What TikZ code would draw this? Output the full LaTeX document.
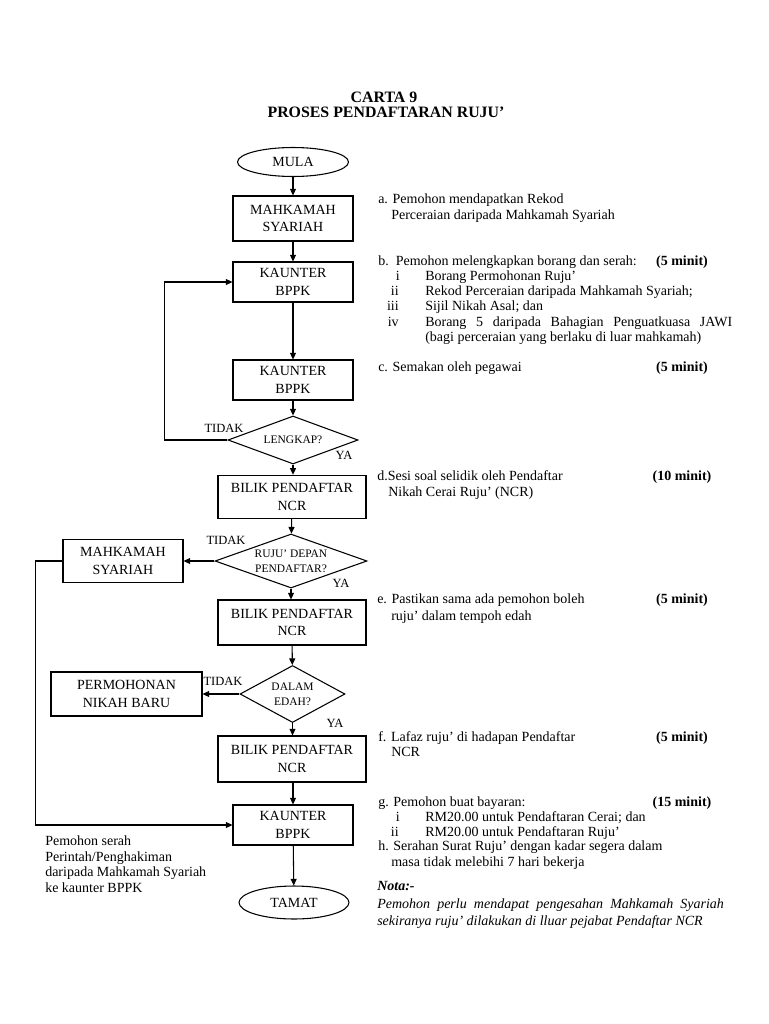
\documentclass[tikz,border=0pt]{standalone}
\usepackage{fontspec}
\setmainfont{Liberation Serif}
\usetikzlibrary{shapes.geometric,arrows.meta}
\newcommand\fsMain{\fontsize{10.5pt}{11.6pt}\selectfont}
\newcommand\fsBox{\fontsize{10.5pt}{13pt}\selectfont}
\newcommand\fsDia{\fontsize{8.6pt}{11pt}\selectfont}
\newcommand\fsLab{\fontsize{9.4pt}{11pt}\selectfont}
\newcommand\fsTitle{\fontsize{11.9pt}{12pt}\selectfont\bfseries}
\begin{document}
\begin{tikzpicture}[x=0.75pt,y=-0.75pt,
  flowbox/.style={draw, line width=0.8pt, align=center, font=\fsBox, inner sep=0pt, minimum width=90pt, minimum height=30pt},
  term/.style={draw, ellipse, line width=0.8pt, font=\fsBox, inner sep=0pt},
  decision/.style={draw, diamond, line width=0.8pt, align=center, font=\fsDia, inner sep=0pt},
  arr/.style={line width=0.8pt, -{Triangle[length=5pt,width=4.5pt]}},
  lab/.style={font=\fsLab, inner sep=0pt},
  txt/.style={font=\fsMain, anchor=mid west, inner sep=0pt},
  num/.style={font=\fsMain, anchor=mid east, inner sep=0pt},
  mins/.style={font=\fsMain\bfseries, anchor=mid, inner sep=0pt}]
\fill[white] (0,0) rectangle (768,1024);
\useasboundingbox (0,0) rectangle (768,1024);

% title
\node[font=\fsTitle, inner sep=0pt] (t1) at (384,97) {CARTA 9};
\node[font=\fsTitle, inner sep=0pt] (t2) at (386,112) {PROSES PENDAFTARAN RUJU'};

% flow
\node[term, minimum width=83.25pt, minimum height=21.75pt] (mula) at (293,162) {MULA};
\node[flowbox, minimum height=33.75pt] (ms1) at (293,218.5) {MAHKAMAH\\SYARIAH};
\node[flowbox] (kb1) at (293,282) {KAUNTER\\BPPK};
\node[flowbox] (kb2) at (293,380) {KAUNTER\\BPPK};
\node[decision, aspect=2.7, minimum width=97.5pt, minimum height=36pt] (lengkap) at (293,440) {LENGKAP?};
\node[flowbox, minimum width=111pt, minimum height=32.5pt] (bl1) at (292,497) {BILIK PENDAFTAR\\NCR};
\node[decision, aspect=2.8, minimum width=114pt, minimum height=40.5pt] (ruju) at (291,561) {RUJU' DEPAN\\PENDAFTAR?};
\node[flowbox, minimum height=32.25pt] (ms2) at (123,561) {MAHKAMAH\\SYARIAH};
\node[flowbox, minimum width=111pt, minimum height=33.75pt] (bl2) at (292,622.5) {BILIK PENDAFTAR\\NCR};
\node[decision, aspect=1.84, minimum width=78.75pt, minimum height=42.75pt] (edah) at (292.5,694) {DALAM\\EDAH?};
\node[flowbox, minimum width=113.25pt, minimum height=33pt] (pnb) at (126.5,694) {PERMOHONAN\\NIKAH BARU};
\node[flowbox, minimum width=111pt, minimum height=34.5pt] (bl3) at (292,759) {BILIK PENDAFTAR\\NCR};
\node[flowbox] (kb3) at (293,825) {KAUNTER\\BPPK};
\node[term, minimum width=82.5pt, minimum height=24.75pt] (tamat) at (294,902.5) {TAMAT};

% connectors
\draw[arr] (mula) -- (ms1);
\draw[arr] (ms1) -- (kb1);
\draw[arr] (kb1) -- (kb2);
\draw[arr] (kb2) -- (lengkap);
\draw[arr] (lengkap.west) -- ++(-63,0) |- (kb1.west);
\draw[arr] (lengkap.south) -- (bl1.north -| lengkap.south);
\draw[arr] (bl1) -- (ruju);
\draw[arr] (ruju.west) -- (ms2.east);
\draw[arr] (ruju.south) -- (bl2.north -| ruju.south);
\draw[arr] (bl2) -- (edah);
\draw[arr] (edah.west) -- (pnb.east);
\draw[arr] (edah.south) -- (bl3.north -| edah.south);
\draw[arr] (bl3.south -| kb3.north) -- (kb3.north);
\draw[arr] (ms2.west) -- ++(-27,0) |- (kb3.west);
\draw[arr] (kb3) -- (tamat);

% branch labels
\node[lab] (l1) at (224,428) {TIDAK};
\node[lab] (l2) at (344,455) {YA};
\node[lab] (l3) at (226,540) {TIDAK};
\node[lab] (l4) at (341,583) {YA};
\node[lab] (l5) at (223,681) {TIDAK};
\node[lab] (l6) at (335,723) {YA};

% left note
\node[txt] (n1) at (45,842) {Pemohon serah};
\node[txt] (n2) at (45,858) {Perintah/Penghakiman};
\node[txt] (n3) at (45,873) {daripada Mahkamah Syariah};
\node[txt] (n4) at (45,889) {ke kaunter BPPK};

% right column
\node[txt] (a1) at (378,200) {a. Pemohon mendapatkan Rekod};
\node[txt] (a2) at (391,216) {Perceraian daripada Mahkamah Syariah};

\node[txt] (b0) at (378,262) {b.\ \ Pemohon melengkapkan borang dan serah:};
\node[mins] (bm) at (682,262) {(5 minit)};
\node[num] (bi) at (400,277) {i};
\node[txt] (bt1) at (425,277) {Borang Permohonan Ruju'};
\node[num] (bii) at (399,292) {ii};
\node[txt] (bt2) at (425,292) {Rekod Perceraian daripada Mahkamah Syariah;};
\node[num] (biii) at (399,307) {iii};
\node[txt] (bt3) at (425,307) {Sijil Nikah Asal; dan};
\node[num] (biv) at (399,323) {iv};
\node[txt] (bt4) at (425,323) {\makebox[230.25pt][s]{Borang 5 daripada Bahagian Penguatkuasa JAWI}};
\node[txt] (bt5) at (425,338) {(bagi perceraian yang berlaku di luar mahkamah)};

\node[txt] (c1) at (378,368) {c. Semakan oleh pegawai};
\node[mins] (cm) at (682,368) {(5 minit)};

\node[txt] (d1) at (377,477) {d.Sesi soal selidik oleh Pendaftar};
\node[txt] (d2) at (388,493) {Nikah Cerai Ruju' (NCR)};
\node[mins] (dm) at (682,477) {(10 minit)};

\node[txt] (e1) at (377,600) {e. Pastikan sama ada pemohon boleh};
\node[txt] (e2) at (391,617) {ruju' dalam tempoh edah};
\node[mins] (em) at (682,600) {(5 minit)};

\node[txt] (f1) at (378,738) {f. Lafaz ruju' di hadapan Pendaftar};
\node[txt] (f2) at (391,753) {NCR};
\node[mins] (fm) at (682,738) {(5 minit)};

\node[txt] (g1) at (378,803) {g. Pemohon buat bayaran:};
\node[mins] (gm) at (682,803) {(15 minit)};
\node[num] (gi) at (400,818) {i};
\node[txt] (gt1) at (425,818) {RM20.00 untuk Pendaftaran Cerai; dan};
\node[num] (gii) at (399,833) {ii};
\node[txt] (gt2) at (425,833) {RM20.00 untuk Pendaftaran Ruju'};
\node[txt] (h1) at (378,847) {h. Serahan Surat Ruju' dengan kadar segera dalam};
\node[txt] (h2) at (391,863) {masa tidak melebihi 7 hari bekerja};

\node[txt, font=\fsMain\bfseries\itshape] (nota) at (377,887) {Nota:-};
\node[txt, font=\fsMain\itshape] (nt1) at (377,905) {\makebox[260pt][s]{Pemohon perlu mendapat pengesahan Mahkamah Syariah}};
\node[txt, font=\fsMain\itshape] (nt2) at (377,922) {sekiranya ruju' dilakukan di lluar pejabat Pendaftar NCR};
\end{tikzpicture}
\end{document}
